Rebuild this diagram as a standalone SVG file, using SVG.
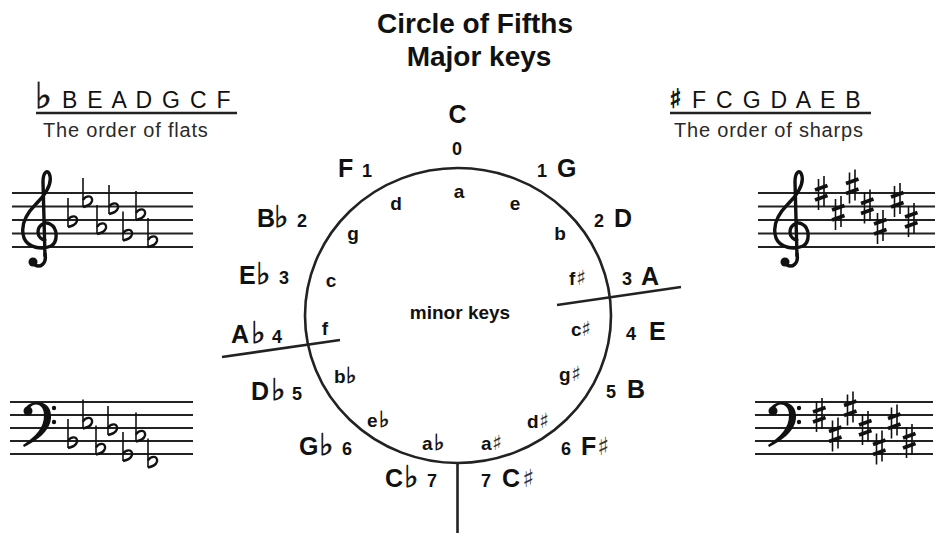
<svg xmlns="http://www.w3.org/2000/svg" xmlns:xlink="http://www.w3.org/1999/xlink" width="935" height="533" viewBox="0 0 935 533">
<style>
text{font-family:"Liberation Sans",Arial,"DejaVu Sans",sans-serif;fill:#111}
.title{font-size:28px;font-weight:bold;text-anchor:middle}
.maj{font-size:25px;font-weight:bold}
.num{font-size:18px;font-weight:bold}
.min{font-size:19px;font-weight:bold}
.acc{font-family:"DejaVu Sans",sans-serif;font-weight:bold;stroke:#111;stroke-width:0.7}
.sh{font-family:"DejaVu Sans",sans-serif;font-weight:normal;fill:#333}
.hdr{font-size:23px;letter-spacing:1.8px}
.sub{font-size:20px;letter-spacing:0.8px;fill:#2a2a2a}
.staff{stroke:#222;stroke-width:1.8}
.line{stroke:#222;stroke-width:2.6;fill:none}
.stem{stroke:#111;stroke-width:1.6;fill:none}
.belly{stroke:#111;stroke-width:2.4;fill:none}
.bar{stroke:#111;stroke-width:3.6}
.clef{stroke:#111;stroke-width:3.4;fill:none;stroke-linecap:round}
</style>
<defs>
<g id="flat">
<path class="stem" d="M0 -22 L0 7"/>
<path class="belly" d="M0 0 C3 -5 10 -5 9 1 C8 5 4 6 0 7"/>
</g>
<g id="sharp">
<path class="stem" d="M3.5 -14 L3.5 17 M9 -17 L9 14"/>
<path class="bar" d="M0 -3 L12.5 -7.5 M0 7 L12.5 2.5"/>
</g>
<g id="treble">
<path class="clef" d="M45 256 L43 182 C43 172 48 168 50 176 C52 186 44 196 36 204 C26 214 20 226 24 238 C28 248 42 250 51 246 C58 242 58 228 50 224 C44 221 38 226 38 232 C38 237 42 240 45 240"/>
<path class="clef" d="M45 254 C47 264 40 268 35 265"/>
<circle cx="33" cy="262" r="4.5" fill="#111"/>
</g>
<g id="bass">
<path fill="#111" d="M25 411 C25 400 50 397 51 415 C52 430 38 440 24 447 L23 445 C36 436 44 428 44 415 C44 403 33 402 30 408 Z"/>
<circle cx="28" cy="411" r="4.5" fill="#111"/>
<circle cx="54" cy="408" r="2.2" fill="#111"/>
<circle cx="54" cy="422" r="2.2" fill="#111"/>
</g>
</defs>

<g id="title">
<text class="title" x="475" y="33">Circle of Fifths</text>
<text class="title" x="479" y="66">Major keys</text>
</g>

<g id="flats-header">
<text y="108"><tspan class="acc" x="35" font-size="36">♭</tspan><tspan class="hdr" x="62">B E A D G C F</tspan></text>
<line x1="36" y1="113" x2="237" y2="113" class="line"/>
<text class="sub" x="43" y="137">The order of flats</text>
</g>

<g id="sharps-header">
<text y="108"><tspan class="acc" x="669" font-size="27">♯</tspan><tspan class="hdr" x="692">F C G D A E B</tspan></text>
<line x1="670" y1="113" x2="871" y2="113" class="line"/>
<text class="sub" x="674" y="137">The order of sharps</text>
</g>

<g id="treble-flats">
<path class="staff" d="M12 193H193M12 206.5H193M12 220H193M12 233.5H193M12 247H193"/>
<use xlink:href="#treble"/>
<use xlink:href="#flat" x="68" y="220"/>
<use xlink:href="#flat" x="83" y="200"/>
<use xlink:href="#flat" x="97" y="227"/>
<use xlink:href="#flat" x="109" y="207"/>
<use xlink:href="#flat" x="123" y="233.5"/>
<use xlink:href="#flat" x="136" y="213"/>
<use xlink:href="#flat" x="148" y="240"/>
</g>

<g id="bass-flats">
<path class="staff" d="M10 402H193M10 415H193M10 428H193M10 441H193M10 454H193"/>
<use xlink:href="#bass"/>
<use xlink:href="#flat" x="68" y="441"/>
<use xlink:href="#flat" x="83" y="421.5"/>
<use xlink:href="#flat" x="96" y="447.5"/>
<use xlink:href="#flat" x="108" y="428"/>
<use xlink:href="#flat" x="123" y="454"/>
<use xlink:href="#flat" x="136" y="434.5"/>
<use xlink:href="#flat" x="148" y="460.5"/>
</g>

<g id="treble-sharps">
<path class="staff" d="M758 193H935M758 206.5H935M758 220H935M758 233.5H935M758 247H935"/>
<use xlink:href="#treble" x="752"/>
<use xlink:href="#sharp" x="815" y="193"/>
<use xlink:href="#sharp" x="832" y="213"/>
<use xlink:href="#sharp" x="846" y="186.5"/>
<use xlink:href="#sharp" x="861" y="206.5"/>
<use xlink:href="#sharp" x="874" y="227"/>
<use xlink:href="#sharp" x="891" y="200"/>
<use xlink:href="#sharp" x="905" y="220"/>
</g>

<g id="bass-sharps">
<path class="staff" d="M755 402H933M755 415H933M755 428H933M755 441H933M755 454H933"/>
<use xlink:href="#bass" x="745"/>
<use xlink:href="#sharp" x="813" y="415"/>
<use xlink:href="#sharp" x="829" y="434.5"/>
<use xlink:href="#sharp" x="844" y="408.5"/>
<use xlink:href="#sharp" x="859" y="428"/>
<use xlink:href="#sharp" x="873" y="447.5"/>
<use xlink:href="#sharp" x="888" y="421.5"/>
<use xlink:href="#sharp" x="903" y="441"/>
</g>

<g id="connectors">
<ellipse cx="458" cy="315.5" rx="153" ry="147.5" class="line"/>
<line x1="457.5" y1="463" x2="457.5" y2="533" class="line"/>
<line x1="557" y1="305" x2="681" y2="287" class="line"/>
<line x1="222" y1="357" x2="340" y2="340" class="line"/>
</g>

<g id="major-keys">
<text class="maj" x="457.5" y="123" text-anchor="middle">C</text>
<text class="num" x="457" y="155" text-anchor="middle">0</text>
<text class="maj" y="177"><tspan x="338">F</tspan><tspan class="num" x="362">1</tspan></text>
<text class="maj" y="177"><tspan class="num" x="537">1</tspan><tspan x="557">G</tspan></text>
<text class="maj" y="227"><tspan x="257">B</tspan><tspan class="acc" font-size="30" x="274">♭</tspan><tspan class="num" x="297">2</tspan></text>
<text class="maj" y="227"><tspan class="num" x="594">2</tspan><tspan x="614">D</tspan></text>
<text class="maj" y="284"><tspan x="239">E</tspan><tspan class="acc" font-size="30" x="256">♭</tspan><tspan class="num" x="279">3</tspan></text>
<text class="maj" y="285"><tspan class="num" x="622">3</tspan><tspan x="641">A</tspan></text>
<text class="maj" y="343"><tspan x="231">A</tspan><tspan class="acc" font-size="30" x="251">♭</tspan><tspan class="num" x="272">4</tspan></text>
<text class="maj" y="340"><tspan class="num" x="626">4</tspan><tspan x="649">E</tspan></text>
<text class="maj" y="400"><tspan x="251">D</tspan><tspan class="acc" font-size="30" x="271">♭</tspan><tspan class="num" x="292">5</tspan></text>
<text class="maj" y="398"><tspan class="num" x="606">5</tspan><tspan x="627">B</tspan></text>
<text class="maj" y="455"><tspan x="299">G</tspan><tspan class="acc" font-size="30" x="319">♭</tspan><tspan class="num" x="342">6</tspan></text>
<text class="maj" y="455"><tspan class="num" x="561">6</tspan><tspan x="581">F</tspan><tspan class="sh" font-size="25" x="597">♯</tspan></text>
<text class="maj" y="487"><tspan x="385">C</tspan><tspan class="acc" font-size="30" x="404">♭</tspan><tspan class="num" x="427">7</tspan></text>
<text class="maj" y="487"><tspan class="num" x="481">7</tspan><tspan x="502">C</tspan><tspan class="sh" font-size="25" x="522">♯</tspan></text>
</g>

<g id="minor-keys">
<text class="min" x="460" y="319" text-anchor="middle" font-size="20">minor keys</text>
<text class="min" x="459" y="198" text-anchor="middle">a</text>
<text class="min" x="515" y="210" text-anchor="middle">e</text>
<text class="min" x="396" y="210" text-anchor="middle">d</text>
<text class="min" x="353" y="240" text-anchor="middle">g</text>
<text class="min" x="560" y="240" text-anchor="middle">b</text>
<text class="min" x="331" y="287" text-anchor="middle">c</text>
<text class="min" y="285"><tspan x="569">f</tspan><tspan class="sh" font-size="21" x="576">♯</tspan></text>
<text class="min" x="325" y="335" text-anchor="middle">f</text>
<text class="min" y="336"><tspan x="571">c</tspan><tspan class="sh" font-size="21" x="581">♯</tspan></text>
<text class="min" y="383"><tspan x="334">b</tspan><tspan class="acc" font-size="22" x="346">♭</tspan></text>
<text class="min" y="381"><tspan x="559">g</tspan><tspan class="sh" font-size="21" x="571">♯</tspan></text>
<text class="min" y="427"><tspan x="367">e</tspan><tspan class="acc" font-size="22" x="379">♭</tspan></text>
<text class="min" y="428"><tspan x="527">d</tspan><tspan class="sh" font-size="21" x="539">♯</tspan></text>
<text class="min" y="450"><tspan x="422">a</tspan><tspan class="acc" font-size="22" x="434">♭</tspan></text>
<text class="min" y="450"><tspan x="481">a</tspan><tspan class="sh" font-size="21" x="492">♯</tspan></text>
</g>
</svg>
